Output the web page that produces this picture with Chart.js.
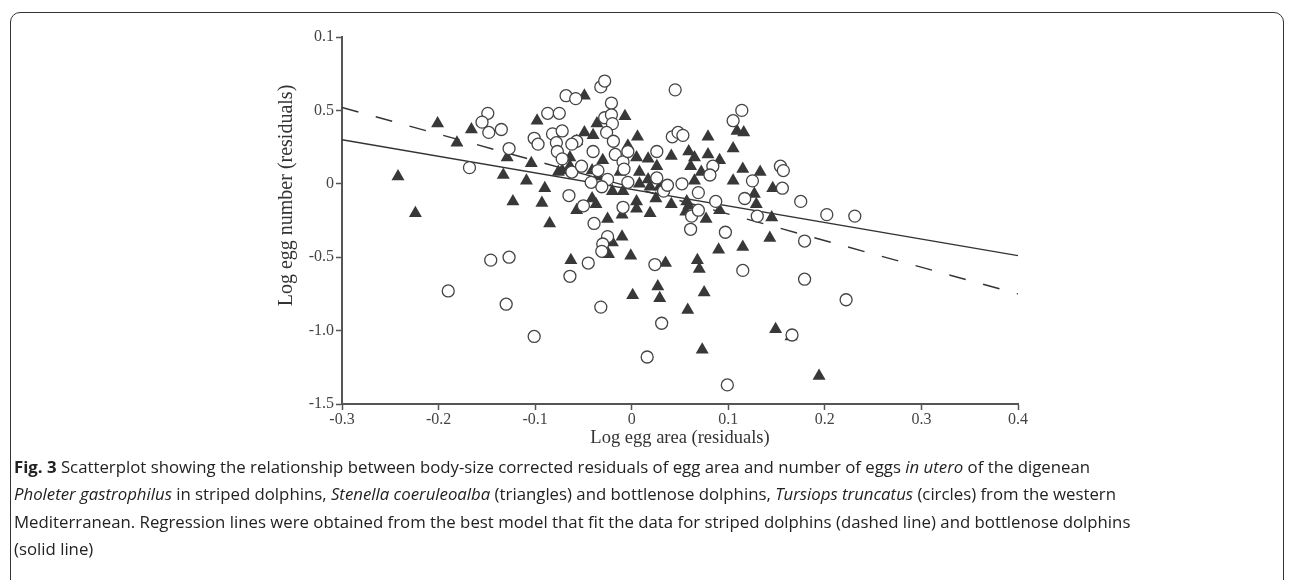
<!DOCTYPE html>
<html>
<head>
<meta charset="utf-8">
<script src="https://cdn.jsdelivr.net/npm/chart.js@4.4.1/dist/chart.umd.min.js"></script>
<style>
  html, body { margin: 0; padding: 0; background: #fff; }
  body { width: 1292px; height: 580px; position: relative; overflow: hidden; }
  #frame { position: absolute; left: 10px; top: 12px; width: 1274px; height: 620px;
           border: 1.5px solid #333; border-radius: 10px; box-sizing: border-box; }
  #chart { position: absolute; left: 0; top: 0; }
  #caption { position: absolute; left: 14px; top: 453px; width: 1268px;
             font-family: "Open Sans", Roboto, sans-serif;
             font-size: 16.8px; line-height: 27.3px; color: #222; white-space: nowrap; }
  #caption b { font-weight: bold; }
</style>
</head>
<body>
<div id="frame"></div>
<canvas id="chart" width="1292" height="460"></canvas>
<div id="caption"><b>Fig. 3</b> Scatterplot showing the relationship between body-size corrected residuals of egg area and number of eggs <i>in utero</i> of the digenean<br><i>Pholeter gastrophilus</i> in striped dolphins, <i>Stenella coeruleoalba</i> (triangles) and bottlenose dolphins, <i>Tursiops truncatus</i> (circles) from the western<br>Mediterranean. Regression lines were obtained from the best model that fit the data for striped dolphins (dashed line) and bottlenose dolphins<br>(solid line)</div>
<script>
// tick labels as printed in the figure (top one really reads 0.1)
var xTickLabels = ['-0.3', '-0.2', '-0.1', '0', '0.1', '0.2', '0.3', '0.4'];
var yTickLabels = ['-1.5', '-1.0', '-0.5', '0', '0.5', '0.1'];

// striped dolphins (triangles)
var stripedX = [-0.242,-0.201,-0.181,-0.166,-0.129,-0.133,-0.109,-0.104,-0.090,-0.123,-0.093,-0.098,
  -0.049,-0.007,0.006,-0.036,-0.049,-0.040,-0.076,-0.064,-0.030,0.005,0.017,0.008,0.026,-0.020,-0.009,
  0.005,0.019,0.025,-0.037,-0.057,-0.025,-0.224,0.019,0.005,-0.010,-0.085,0.017,0.029,-0.063,-0.010,
  -0.020,-0.024,-0.001,0.001,0.027,0.029,0.035,0.058,0.068,0.070,0.075,0.073,0.090,0.115,0.143,0.145,
  0.091,0.077,0.041,0.129,0.149,0.165,0.194,0.079,0.109,0.116,0.105,0.041,0.059,0.065,0.079,0.091,
  0.061,0.072,0.115,0.133,0.105,0.146,0.127,0.057,0.059,0.065,-0.057,-0.004,-0.064,-0.072,-0.012,
  -0.041,-0.035,-0.041,0.056,0.008];
var stripedY = [0.05,0.41,0.28,0.37,0.18,0.06,0.02,0.14,-0.03,-0.12,-0.13,0.43,
  0.60,0.46,0.32,0.41,0.35,0.33,0.08,0.12,0.16,0.18,0.17,0.08,0.12,-0.05,-0.05,
  -0.12,-0.02,-0.10,-0.14,-0.18,-0.24,-0.20,-0.20,-0.17,-0.21,-0.27,0.03,-0.02,-0.52,-0.36,
  -0.40,-0.48,-0.49,-0.76,-0.70,-0.78,-0.54,-0.86,-0.52,-0.58,-0.74,-1.13,-0.45,-0.43,-0.37,-0.23,
  -0.18,-0.24,-0.14,-0.14,-0.99,-1.04,-1.31,0.32,0.36,0.35,0.24,0.19,0.22,0.18,0.20,0.16,
  0.12,0.08,0.10,0.08,0.02,-0.03,-0.07,-0.12,-0.15,0.02,0.29,0.26,0.18,0.09,0.08,
  0.09,0.05,-0.10,-0.19,0.00];

// bottlenose dolphins (circles)
var bottleX = [-0.149,-0.155,-0.148,-0.135,-0.127,-0.168,-0.101,-0.097,-0.087,-0.075,-0.068,-0.058,
  -0.032,-0.028,-0.021,-0.028,-0.021,-0.020,-0.082,-0.072,-0.078,-0.077,-0.072,-0.062,-0.057,-0.052,
  -0.040,-0.035,-0.026,-0.019,-0.017,-0.009,-0.004,-0.025,-0.031,-0.042,-0.004,-0.008,0.026,0.026,
  0.033,0.042,-0.065,-0.050,-0.009,-0.039,0.045,0.105,0.114,0.048,0.053,0.084,0.081,0.125,0.154,
  0.157,0.156,0.117,0.175,0.202,0.231,0.130,0.037,0.052,0.069,0.087,0.062,0.069,0.061,0.097,0.179,
  0.024,0.115,0.179,0.222,0.031,0.166,0.016,0.099,-0.190,-0.146,-0.127,-0.130,-0.101,-0.064,-0.045,
  -0.032,-0.025,-0.030,-0.031,-0.062];
var bottleY = [0.48,0.42,0.35,0.37,0.24,0.11,0.31,0.27,0.48,0.48,0.60,0.58,
  0.66,0.70,0.55,0.45,0.47,0.41,0.34,0.36,0.28,0.22,0.17,0.08,0.29,0.12,
  0.22,0.09,0.35,0.29,0.20,0.15,0.22,0.03,-0.02,0.01,0.01,0.10,0.22,0.04,
  -0.05,0.32,-0.08,-0.15,-0.16,-0.27,0.64,0.43,0.50,0.35,0.33,0.12,0.06,0.02,0.12,
  0.09,-0.03,-0.10,-0.12,-0.21,-0.22,-0.22,-0.01,0.00,-0.06,-0.12,-0.22,-0.18,-0.31,-0.33,-0.39,
  -0.55,-0.59,-0.65,-0.79,-0.95,-1.03,-1.18,-1.37,-0.73,-0.52,-0.50,-0.82,-1.04,-0.63,-0.54,
  -0.84,-0.36,-0.41,-0.46,0.27];

// regression lines, ends at x = -0.3 and 0.4
var lineX = [-0.3, 0.4];
var stripedFit = [0.52, -0.75];
var bottleFit = [0.30, -0.49];

function pts(xs, ys) {
  return xs.map(function(x, i) { return { x: x, y: ys[i] }; });
}

var serif = '"Liberation Serif", "Times New Roman", serif';
var ink = '#444';
// leading no-break spaces push the rotated title up a bit, as in the figure
var yTitle = '\u00a0'.repeat(10) + 'Log egg number (residuals)';

new Chart(document.getElementById('chart'), {
  type: 'scatter',
  data: {
    datasets: [
      { type: 'scatter', data: pts(bottleX, bottleY), pointStyle: 'circle', pointRadius: 6,
        backgroundColor: '#fff', borderColor: '#444', borderWidth: 1.3, order: 1 },
      { type: 'scatter', data: pts(stripedX, stripedY), pointStyle: 'triangle', pointRadius: 7.5,
        backgroundColor: '#383838', borderColor: '#383838', borderWidth: 0, order: 2 },
      { type: 'line', data: pts(lineX, stripedFit), borderColor: '#333', borderWidth: 1.4,
        borderDash: [17, 18], pointRadius: 0, fill: false, order: 3 },
      { type: 'line', data: pts(lineX, bottleFit), borderColor: '#333', borderWidth: 1.3,
        pointRadius: 0, fill: false, order: 4 }
    ]
  },
  options: {
    responsive: false,
    animation: false,
    devicePixelRatio: 1,
    layout: { padding: { left: 272, top: 37, right: 274, bottom: 6 } },
    plugins: { legend: { display: false }, tooltip: { enabled: false } },
    scales: {
      x: {
        type: 'linear', min: -0.3, max: 0.4,
        afterFit: function(axis) { axis.height = 50; },
        ticks: { stepSize: 0.1, color: ink, padding: 0, maxRotation: 0,
                 font: { family: serif, size: 16 },
                 callback: function(v, i) { return xTickLabels[i]; } },
        grid: { drawOnChartArea: false, drawTicks: true, tickLength: 6, tickColor: '#555', tickWidth: 1.5 },
        border: { display: true, color: '#555', width: 2 },
        title: { display: true, text: 'Log egg area (residuals)', color: '#333',
                 font: { family: serif, size: 18.5 }, padding: { top: 0, bottom: 5 } }
      },
      y: {
        type: 'linear', min: -1.5, max: 1.0,
        afterFit: function(axis) { axis.width = 70; },
        ticks: { stepSize: 0.5, color: ink, padding: 2,
                 font: { family: serif, size: 16 },
                 callback: function(v, i) { return yTickLabels[i]; } },
        grid: { drawOnChartArea: false, drawTicks: true, tickLength: 6, tickColor: '#555', tickWidth: 1.5 },
        border: { display: true, color: '#555', width: 2 },
        title: { display: true, text: yTitle, color: '#333',
                 font: { family: serif, size: 20 }, padding: { top: 3, bottom: 0 } }
      }
    }
  }
});
</script>
</body>
</html>
